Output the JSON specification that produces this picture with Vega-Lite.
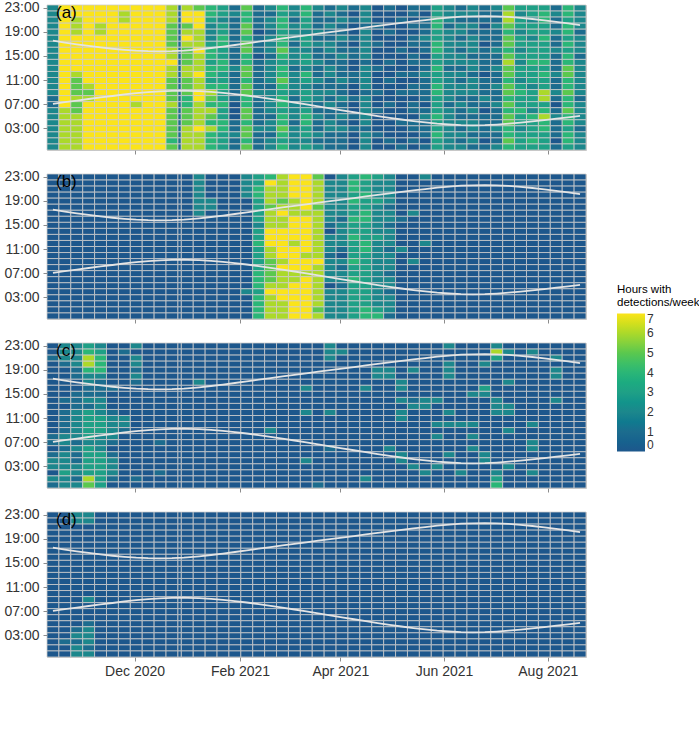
{
"$schema":"https://vega.github.io/schema/vega-lite/v6.json",
"padding":{"left":3,"top":0,"right":4,"bottom":4},
"background":"white",
"spacing":14,
"config":{
 "font":"Liberation Sans",
 "view":{"stroke":"#c6c6c6","strokeWidth":1},
 "axis":{"domain":false,"grid":false,"tickColor":"#8c8c8c","tickSize":4,"labelColor":"#333333","labelFontSize":14,"labelPadding":4},
 "legend":{"orient":"none","legendX":570,"legendY":279,"direction":"vertical","gradientLength":138,"gradientThickness":28,"titleFontSize":11.5,"titleFontWeight":"normal","titleColor":"#000000","titleLineHeight":13,"titlePadding":5,"labelFontSize":12,"labelColor":"#333333","labelOffset":6,"labelOverlap":false,"gradientStrokeWidth":0},
 "title":{"fontSize":17,"fontWeight":"normal","color":"#000000","anchor":"start","frame":"group","offset":-21,"dx":9}
},
"datasets":{
"sun":[
{"d":"2020-10-14T00:00","r":7.15,"s":17.59},{"d":"2020-10-21T00:00","r":7.41,"s":17.28},{"d":"2020-10-28T00:00","r":7.68,"s":16.99},{"d":"2020-11-04T00:00","r":7.94,"s":16.72},{"d":"2020-11-11T00:00","r":8.2,"s":16.47},{"d":"2020-11-18T00:00","r":8.44,"s":16.26},{"d":"2020-11-25T00:00","r":8.69,"s":16.08},{"d":"2020-12-02T00:00","r":8.9,"s":15.94},{"d":"2020-12-09T00:00","r":9.09,"s":15.85},{"d":"2020-12-16T00:00","r":9.22,"s":15.83},{"d":"2020-12-23T00:00","r":9.29,"s":15.86},{"d":"2020-12-30T00:00","r":9.32,"s":15.95},{"d":"2021-01-01T00:00","r":9.3,"s":16.0},{"d":"2021-01-08T00:00","r":9.25,"s":16.17},{"d":"2021-01-15T00:00","r":9.13,"s":16.38},{"d":"2021-01-22T00:00","r":8.96,"s":16.62},{"d":"2021-01-29T00:00","r":8.76,"s":16.88},{"d":"2021-02-05T00:00","r":8.52,"s":17.15},{"d":"2021-02-12T00:00","r":8.25,"s":17.42},{"d":"2021-02-19T00:00","r":7.97,"s":17.7},{"d":"2021-02-26T00:00","r":7.66,"s":17.97},{"d":"2021-03-05T00:00","r":7.36,"s":18.23},{"d":"2021-03-12T00:00","r":7.04,"s":18.49},{"d":"2021-03-19T00:00","r":6.72,"s":18.76},{"d":"2021-03-26T00:00","r":6.4,"s":19.0},{"d":"2021-04-02T00:00","r":6.07,"s":19.27},{"d":"2021-04-09T00:00","r":5.75,"s":19.52},{"d":"2021-04-16T00:00","r":5.43,"s":19.78},{"d":"2021-04-23T00:00","r":5.12,"s":20.03},{"d":"2021-04-30T00:00","r":4.82,"s":20.29},{"d":"2021-05-07T00:00","r":4.55,"s":20.53},{"d":"2021-05-14T00:00","r":4.29,"s":20.79},{"d":"2021-05-21T00:00","r":4.07,"s":21.01},{"d":"2021-05-28T00:00","r":3.86,"s":21.24},{"d":"2021-06-04T00:00","r":3.72,"s":21.42},{"d":"2021-06-11T00:00","r":3.62,"s":21.56},{"d":"2021-06-18T00:00","r":3.59,"s":21.63},{"d":"2021-06-25T00:00","r":3.61,"s":21.66},{"d":"2021-07-02T00:00","r":3.71,"s":21.62},{"d":"2021-07-09T00:00","r":3.85,"s":21.52},{"d":"2021-07-16T00:00","r":4.03,"s":21.37},{"d":"2021-07-23T00:00","r":4.24,"s":21.18},{"d":"2021-07-30T00:00","r":4.46,"s":20.96},{"d":"2021-08-06T00:00","r":4.68,"s":20.72},{"d":"2021-08-13T00:00","r":4.91,"s":20.45},{"d":"2021-08-20T00:00","r":5.14,"s":20.17}
],
"cells":[
{"p":"a","x":"2020-10-10T12:00","x2":"2020-10-17T12:00","23":2,"22":2,"21":2,"20":2,"19":2,"18":2,"17":2,"16":2,"15":2,"14":2,"13":2,"12":2,"11":2,"10":2,"9":2,"8":1,"7":1,"6":2,"5":2,"4":2,"3":2,"2":2,"1":2,"0":2},
{"p":"a","x":"2020-10-17T12:00","x2":"2020-10-24T12:00","23":7,"22":7,"21":7,"20":7,"19":7,"18":7,"17":7,"16":7,"15":7,"14":7,"13":7,"12":7,"11":7,"10":7,"9":7,"8":7,"7":7,"6":6,"5":6,"4":6,"3":6,"2":6,"1":6,"0":6},
{"p":"a","x":"2020-10-24T12:00","x2":"2020-10-31T12:00","23":7,"22":7,"21":6,"20":6,"19":6,"18":7,"17":7,"16":7,"15":7,"14":7,"13":7,"12":6,"11":5,"10":5,"9":5,"8":6,"7":5,"6":5,"5":6,"4":6,"3":6,"2":6,"1":6,"0":6},
{"p":"a","x":"2020-10-31T12:00","x2":"2020-11-07T12:00","23":7,"22":7,"21":7,"20":7,"19":7,"18":7,"17":7,"16":7,"15":7,"14":7,"13":7,"12":7,"11":7,"10":6,"9":5,"8":6,"7":7,"6":7,"5":7,"4":7,"3":7,"2":7,"1":7,"0":7},
{"p":"a","x":"2020-11-07T12:00","x2":"2020-11-14T12:00","23":7,"22":7,"21":7,"20":6,"19":6,"18":7,"17":7,"16":7,"15":7,"14":7,"13":7,"12":7,"11":7,"10":7,"9":7,"8":7,"7":7,"6":7,"5":7,"4":7,"3":7,"2":7,"1":7,"0":7},
{"p":"a","x":"2020-11-14T12:00","x2":"2020-11-21T12:00","23":7,"22":7,"21":7,"20":7,"19":7,"18":7,"17":7,"16":7,"15":7,"14":7,"13":7,"12":7,"11":7,"10":7,"9":7,"8":7,"7":7,"6":7,"5":7,"4":7,"3":7,"2":7,"1":7,"0":7},
{"p":"a","x":"2020-11-21T12:00","x2":"2020-11-28T12:00","23":7,"22":6,"21":6,"20":7,"19":7,"18":7,"17":7,"16":7,"15":7,"14":7,"13":7,"12":7,"11":7,"10":7,"9":7,"8":7,"7":7,"6":7,"5":7,"4":7,"3":7,"2":7,"1":7,"0":7},
{"p":"a","x":"2020-11-28T12:00","x2":"2020-12-05T12:00","23":7,"22":7,"21":7,"20":7,"19":7,"18":7,"17":7,"16":7,"15":7,"14":7,"13":7,"12":7,"11":7,"10":7,"9":7,"8":7,"7":6,"6":7,"5":7,"4":7,"3":7,"2":7,"1":7,"0":7},
{"p":"a","x":"2020-12-05T12:00","x2":"2020-12-12T12:00","23":7,"22":7,"21":7,"20":7,"19":7,"18":7,"17":7,"16":7,"15":7,"14":7,"13":7,"12":7,"11":7,"10":7,"9":7,"8":7,"7":7,"6":7,"5":7,"4":7,"3":7,"2":7,"1":7,"0":7},
{"p":"a","x":"2020-12-12T12:00","x2":"2020-12-19T12:00","23":7,"22":7,"21":7,"20":7,"19":7,"18":7,"17":7,"16":7,"15":7,"14":7,"13":7,"12":7,"11":7,"10":7,"9":7,"8":7,"7":7,"6":7,"5":7,"4":7,"3":7,"2":7,"1":7,"0":7},
{"p":"a","x":"2020-12-19T12:00","x2":"2020-12-26T12:00","23":6,"22":6,"21":6,"20":5,"19":5,"18":5,"17":5,"16":6,"15":6,"14":7,"13":6,"12":6,"11":5,"10":5,"9":5,"8":5,"7":6,"6":5,"5":5,"4":5,"3":5,"2":5,"1":4,"0":5},
{"p":"a","x":"2020-12-26T12:00","x2":"2020-12-28T12:00","23":1,"22":1,"21":1,"20":1,"19":1,"18":1,"17":1,"16":1,"15":1,"14":1,"13":1,"12":1,"11":1,"10":1,"9":1,"8":1,"7":1,"6":1,"5":1,"4":1,"3":1,"2":1,"1":1,"0":1},
{"p":"a","x":"2020-12-28T12:00","x2":"2021-01-04T12:00","23":6,"22":7,"21":7,"20":5,"19":6,"18":7,"17":6,"16":5,"15":5,"14":5,"13":6,"12":6,"11":5,"10":5,"9":5,"8":4,"7":4,"6":5,"5":5,"4":5,"3":6,"2":6,"1":6,"0":6},
{"p":"a","x":"2021-01-04T12:00","x2":"2021-01-11T12:00","23":5,"22":7,"21":7,"20":7,"19":6,"18":6,"17":6,"16":7,"15":6,"14":6,"13":6,"12":7,"11":6,"10":6,"9":7,"8":7,"7":6,"6":6,"5":6,"4":6,"3":7,"2":6,"1":6,"0":6},
{"p":"a","x":"2021-01-11T12:00","x2":"2021-01-18T12:00","23":4,"22":4,"21":3,"20":2,"19":2,"18":2,"17":3,"16":4,"15":4,"14":3,"13":4,"12":4,"11":3,"10":4,"9":6,"8":5,"7":4,"6":6,"5":5,"4":4,"3":6,"2":4,"1":4,"0":4},
{"p":"a","x":"2021-01-18T12:00","x2":"2021-01-25T12:00","23":3,"22":3,"21":2,"20":3,"19":3,"18":4,"17":4,"16":3,"15":3,"14":4,"13":4,"12":3,"11":3,"10":4,"9":3,"8":3,"7":4,"6":3,"5":3,"4":4,"3":4,"2":3,"1":3,"0":3},
{"p":"a","x":"2021-01-25T12:00","x2":"2021-02-01T12:00","23":1,"22":2,"21":1,"20":1,"19":1,"18":1,"17":1,"16":1,"15":1,"14":1,"13":2,"12":1,"11":1,"10":1,"9":1,"8":1,"7":0,"6":0,"5":0,"4":1,"3":1,"2":2,"1":1,"0":1},
{"p":"a","x":"2021-02-01T12:00","x2":"2021-02-08T12:00","23":5,"22":4,"21":4,"20":5,"19":5,"18":4,"17":5,"16":5,"15":4,"14":4,"13":5,"12":5,"11":4,"10":5,"9":5,"8":4,"7":4,"6":5,"5":5,"4":4,"3":5,"2":5,"1":4,"0":5},
{"p":"a","x":"2021-02-08T12:00","x2":"2021-02-15T12:00","23":1,"22":1,"21":1,"20":1,"19":0,"18":1,"17":1,"16":1,"15":0,"14":1,"13":1,"12":1,"11":1,"10":1,"9":2,"8":1,"7":1,"6":1,"5":1,"4":1,"3":2,"2":1,"1":1,"0":1},
{"p":"a","x":"2021-02-15T12:00","x2":"2021-02-22T12:00","23":2,"22":1,"21":2,"20":2,"19":1,"18":2,"17":2,"16":2,"15":1,"14":2,"13":2,"12":2,"11":2,"10":1,"9":2,"8":2,"7":2,"6":2,"5":1,"4":2,"3":2,"2":1,"1":2,"0":2},
{"p":"a","x":"2021-02-22T12:00","x2":"2021-03-01T12:00","23":4,"22":3,"21":4,"20":4,"19":3,"18":4,"17":4,"16":5,"15":4,"14":3,"13":4,"12":4,"11":5,"10":4,"9":3,"8":4,"7":4,"6":3,"5":4,"4":4,"3":5,"2":4,"1":3,"0":4},
{"p":"a","x":"2021-03-01T12:00","x2":"2021-03-08T12:00","23":2,"22":2,"21":1,"20":2,"19":2,"18":2,"17":1,"16":2,"15":2,"14":2,"13":1,"12":2,"11":2,"10":2,"9":2,"8":1,"7":2,"6":2,"5":2,"4":1,"3":2,"2":2,"1":2,"0":2},
{"p":"a","x":"2021-03-08T12:00","x2":"2021-03-15T12:00","23":4,"22":4,"21":3,"20":3,"19":2,"18":3,"17":3,"16":2,"15":3,"14":3,"13":2,"12":4,"11":3,"10":2,"9":3,"8":3,"7":2,"6":3,"5":4,"4":4,"3":3,"2":3,"1":2,"0":3},
{"p":"a","x":"2021-03-15T12:00","x2":"2021-03-22T12:00","23":2,"22":1,"21":1,"20":1,"19":2,"18":1,"17":2,"16":1,"15":1,"14":2,"13":1,"12":1,"11":2,"10":1,"9":2,"8":2,"7":1,"6":1,"5":2,"4":1,"3":1,"2":2,"1":1,"0":2},
{"p":"a","x":"2021-03-22T12:00","x2":"2021-03-29T12:00","23":1,"22":2,"21":1,"20":2,"19":1,"18":1,"17":2,"16":2,"15":1,"14":1,"13":2,"12":2,"11":1,"10":1,"9":2,"8":1,"7":2,"6":1,"5":1,"4":2,"3":2,"2":1,"1":1,"0":1},
{"p":"a","x":"2021-03-29T12:00","x2":"2021-04-05T12:00","23":2,"22":1,"21":2,"20":1,"19":1,"18":2,"17":1,"16":1,"15":2,"14":1,"13":1,"12":1,"11":2,"10":1,"9":1,"8":2,"7":1,"6":1,"5":2,"4":1,"3":2,"2":1,"1":1,"0":1},
{"p":"a","x":"2021-04-05T12:00","x2":"2021-04-12T12:00","23":1,"22":0,"21":1,"20":0,"19":0,"18":1,"17":0,"16":1,"15":1,"14":0,"13":0,"12":1,"11":1,"10":0,"9":0,"8":1,"7":0,"6":0,"5":1,"4":0,"3":1,"2":0,"1":0,"0":0},
{"p":"a","x":"2021-04-12T12:00","x2":"2021-04-19T12:00","23":2,"22":2,"21":2,"20":1,"19":2,"18":2,"17":2,"16":2,"15":2,"14":1,"13":2,"12":2,"11":2,"10":2,"9":1,"8":2,"7":2,"6":2,"5":2,"4":2,"3":1,"2":2,"1":2,"0":2},
{"p":"a","x":"2021-04-19T12:00","x2":"2021-04-26T12:00","23":0,"22":0,"21":0,"20":1,"19":0,"18":0,"17":1,"16":0,"15":0,"14":0,"13":1,"12":0,"11":0,"10":0,"9":1,"8":0,"7":0,"6":1,"5":0,"4":0,"3":0,"2":1,"1":0,"0":0},
{"p":"a","x":"2021-04-26T12:00","x2":"2021-05-03T12:00","23":1,"22":0,"21":0,"20":0,"19":1,"18":0,"17":0,"16":0,"15":0,"14":1,"13":0,"12":0,"11":1,"10":0,"9":0,"8":0,"7":1,"6":0,"5":0,"4":0,"3":0,"2":0,"1":1,"0":0},
{"p":"a","x":"2021-05-03T12:00","x2":"2021-05-10T12:00","23":0,"22":0,"21":1,"20":0,"19":0,"18":0,"17":0,"16":1,"15":0,"14":0,"13":0,"12":1,"11":0,"10":0,"9":1,"8":0,"7":0,"6":0,"5":0,"4":1,"3":0,"2":0,"1":0,"0":1},
{"p":"a","x":"2021-05-10T12:00","x2":"2021-05-17T12:00","23":1,"22":1,"21":0,"20":1,"19":0,"18":1,"17":1,"16":0,"15":1,"14":1,"13":0,"12":1,"11":0,"10":1,"9":1,"8":0,"7":1,"6":1,"5":0,"4":1,"3":1,"2":0,"1":1,"0":0},
{"p":"a","x":"2021-05-17T12:00","x2":"2021-05-24T12:00","23":1,"22":0,"21":1,"20":1,"19":1,"18":2,"17":1,"16":1,"15":0,"14":1,"13":1,"12":2,"11":1,"10":1,"9":1,"8":1,"7":0,"6":1,"5":2,"4":1,"3":1,"2":1,"1":0,"0":1},
{"p":"a","x":"2021-05-24T12:00","x2":"2021-05-31T12:00","23":3,"22":3,"21":4,"20":4,"19":3,"18":3,"17":4,"16":4,"15":3,"14":3,"13":4,"12":3,"11":3,"10":4,"9":4,"8":3,"7":3,"6":3,"5":4,"4":3,"3":3,"2":4,"1":3,"0":3},
{"p":"a","x":"2021-05-31T12:00","x2":"2021-06-07T12:00","23":2,"22":2,"21":2,"20":1,"19":2,"18":2,"17":2,"16":2,"15":2,"14":2,"13":1,"12":2,"11":2,"10":2,"9":2,"8":2,"7":1,"6":2,"5":2,"4":2,"3":2,"2":2,"1":2,"0":2},
{"p":"a","x":"2021-06-07T12:00","x2":"2021-06-14T12:00","23":1,"22":2,"21":1,"20":2,"19":2,"18":1,"17":2,"16":1,"15":2,"14":2,"13":1,"12":2,"11":1,"10":2,"9":2,"8":1,"7":2,"6":1,"5":1,"4":2,"3":1,"2":2,"1":1,"0":2},
{"p":"a","x":"2021-06-14T12:00","x2":"2021-06-21T12:00","23":2,"22":2,"21":1,"20":2,"19":1,"18":2,"17":2,"16":2,"15":1,"14":2,"13":2,"12":1,"11":2,"10":2,"9":2,"8":1,"7":1,"6":2,"5":1,"4":2,"3":2,"2":1,"1":2,"0":1},
{"p":"a","x":"2021-06-21T12:00","x2":"2021-06-28T12:00","23":1,"22":1,"21":1,"20":0,"19":1,"18":1,"17":0,"16":1,"15":1,"14":1,"13":1,"12":0,"11":1,"10":1,"9":1,"8":2,"7":1,"6":0,"5":1,"4":1,"3":1,"2":1,"1":0,"0":1},
{"p":"a","x":"2021-06-28T12:00","x2":"2021-07-05T12:00","23":2,"22":1,"21":1,"20":2,"19":1,"18":1,"17":1,"16":2,"15":1,"14":1,"13":2,"12":1,"11":1,"10":2,"9":1,"8":1,"7":2,"6":1,"5":1,"4":1,"3":2,"2":1,"1":1,"0":2},
{"p":"a","x":"2021-07-05T12:00","x2":"2021-07-12T12:00","23":5,"22":6,"21":6,"20":5,"19":4,"18":5,"17":5,"16":4,"15":5,"14":6,"13":5,"12":5,"11":4,"10":5,"9":5,"8":4,"7":5,"6":4,"5":5,"4":5,"3":4,"2":4,"1":5,"0":4},
{"p":"a","x":"2021-07-12T12:00","x2":"2021-07-19T12:00","23":3,"22":2,"21":3,"20":3,"19":2,"18":3,"17":3,"16":2,"15":3,"14":2,"13":3,"12":3,"11":2,"10":3,"9":4,"8":3,"7":3,"6":4,"5":3,"4":3,"3":2,"2":3,"1":3,"0":3},
{"p":"a","x":"2021-07-19T12:00","x2":"2021-07-26T12:00","23":3,"22":3,"21":2,"20":3,"19":3,"18":2,"17":3,"16":3,"15":3,"14":4,"13":3,"12":3,"11":3,"10":2,"9":3,"8":3,"7":3,"6":2,"5":4,"4":3,"3":3,"2":3,"1":4,"0":3},
{"p":"a","x":"2021-07-26T12:00","x2":"2021-08-02T12:00","23":3,"22":4,"21":4,"20":3,"19":3,"18":4,"17":3,"16":3,"15":3,"14":4,"13":3,"12":4,"11":3,"10":3,"9":6,"8":6,"7":3,"6":4,"5":6,"4":4,"3":4,"2":3,"1":3,"0":3},
{"p":"a","x":"2021-08-02T12:00","x2":"2021-08-09T12:00","23":1,"22":2,"21":1,"20":1,"19":2,"18":1,"17":1,"16":2,"15":1,"14":1,"13":1,"12":2,"11":1,"10":1,"9":2,"8":1,"7":0,"6":1,"5":2,"4":1,"3":1,"2":1,"1":0,"0":1},
{"p":"a","x":"2021-08-09T12:00","x2":"2021-08-16T12:00","23":4,"22":4,"21":3,"20":4,"19":4,"18":3,"17":4,"16":3,"15":4,"14":4,"13":5,"12":5,"11":4,"10":4,"9":5,"8":4,"7":4,"6":5,"5":4,"4":4,"3":3,"2":4,"1":4,"0":3},
{"p":"a","x":"2021-08-16T12:00","x2":"2021-08-23T12:00","23":2,"22":2,"21":2,"20":2,"19":1,"18":2,"17":2,"16":2,"15":1,"14":2,"13":2,"12":2,"11":2,"10":2,"9":2,"8":1,"7":2,"6":2,"5":2,"4":2,"3":1,"2":2,"1":2,"0":2},

{"p":"b","x":"2020-10-10T12:00","x2":"2020-10-17T12:00","23":0,"22":0,"21":0,"20":0,"19":0,"18":0,"17":0,"16":0,"15":0,"14":0,"13":0,"12":0,"11":0,"10":0,"9":0,"8":0,"7":0,"6":0,"5":0,"4":0,"3":0,"2":0,"1":0,"0":0},
{"p":"b","x":"2020-10-17T12:00","x2":"2020-10-24T12:00","23":0,"22":0,"21":0,"20":0,"19":0,"18":0,"17":0,"16":0,"15":0,"14":0,"13":0,"12":0,"11":0,"10":0,"9":0,"8":0,"7":0,"6":0,"5":0,"4":0,"3":0,"2":0,"1":0,"0":0},
{"p":"b","x":"2020-10-24T12:00","x2":"2020-10-31T12:00","23":0,"22":0,"21":0,"20":0,"19":0,"18":0,"17":0,"16":0,"15":0,"14":0,"13":0,"12":0,"11":0,"10":0,"9":0,"8":0,"7":0,"6":0,"5":0,"4":0,"3":0,"2":0,"1":0,"0":0},
{"p":"b","x":"2020-10-31T12:00","x2":"2020-11-07T12:00","23":0,"22":0,"21":0,"20":0,"19":0,"18":0,"17":0,"16":0,"15":0,"14":0,"13":0,"12":0,"11":0,"10":0,"9":0,"8":0,"7":0,"6":0,"5":0,"4":0,"3":0,"2":0,"1":0,"0":0},
{"p":"b","x":"2020-11-07T12:00","x2":"2020-11-14T12:00","23":0,"22":0,"21":0,"20":0,"19":0,"18":0,"17":0,"16":0,"15":0,"14":0,"13":0,"12":0,"11":0,"10":0,"9":0,"8":0,"7":0,"6":0,"5":0,"4":0,"3":0,"2":0,"1":0,"0":0},
{"p":"b","x":"2020-11-14T12:00","x2":"2020-11-21T12:00","23":0,"22":0,"21":0,"20":0,"19":0,"18":0,"17":0,"16":0,"15":0,"14":0,"13":0,"12":0,"11":0,"10":0,"9":0,"8":0,"7":0,"6":0,"5":0,"4":0,"3":0,"2":0,"1":0,"0":0},
{"p":"b","x":"2020-11-21T12:00","x2":"2020-11-28T12:00","23":0,"22":0,"21":0,"20":0,"19":0,"18":0,"17":0,"16":0,"15":0,"14":0,"13":0,"12":0,"11":0,"10":0,"9":0,"8":0,"7":0,"6":0,"5":0,"4":0,"3":0,"2":0,"1":0,"0":0},
{"p":"b","x":"2020-11-28T12:00","x2":"2020-12-05T12:00","23":0,"22":0,"21":0,"20":0,"19":0,"18":0,"17":0,"16":0,"15":0,"14":0,"13":0,"12":0,"11":0,"10":0,"9":0,"8":0,"7":0,"6":0,"5":0,"4":0,"3":0,"2":0,"1":0,"0":0},
{"p":"b","x":"2020-12-05T12:00","x2":"2020-12-12T12:00","23":0,"22":0,"21":0,"20":0,"19":0,"18":0,"17":0,"16":0,"15":0,"14":0,"13":0,"12":0,"11":0,"10":0,"9":0,"8":0,"7":0,"6":0,"5":0,"4":0,"3":0,"2":0,"1":0,"0":0},
{"p":"b","x":"2020-12-12T12:00","x2":"2020-12-19T12:00","23":0,"22":0,"21":0,"20":0,"19":0,"18":0,"17":0,"16":0,"15":0,"14":0,"13":0,"12":0,"11":0,"10":0,"9":0,"8":0,"7":0,"6":0,"5":0,"4":0,"3":0,"2":0,"1":0,"0":0},
{"p":"b","x":"2020-12-19T12:00","x2":"2020-12-26T12:00","23":0,"22":0,"21":0,"20":0,"19":0,"18":0,"17":0,"16":0,"15":0,"14":0,"13":0,"12":0,"11":0,"10":0,"9":0,"8":0,"7":0,"6":0,"5":0,"4":0,"3":0,"2":0,"1":0,"0":0},
{"p":"b","x":"2020-12-26T12:00","x2":"2020-12-28T12:00","23":0,"22":0,"21":0,"20":0,"19":0,"18":0,"17":0,"16":0,"15":0,"14":0,"13":0,"12":0,"11":0,"10":0,"9":0,"8":0,"7":0,"6":0,"5":0,"4":0,"3":0,"2":0,"1":0,"0":0},
{"p":"b","x":"2020-12-28T12:00","x2":"2021-01-04T12:00","23":0,"22":0,"21":0,"20":0,"19":0,"18":0,"17":0,"16":0,"15":0,"14":0,"13":0,"12":0,"11":0,"10":0,"9":0,"8":0,"7":0,"6":0,"5":0,"4":0,"3":0,"2":0,"1":0,"0":0},
{"p":"b","x":"2021-01-04T12:00","x2":"2021-01-11T12:00","23":2,"22":2,"21":2,"20":2,"19":2,"18":2,"17":2,"16":0,"15":0,"14":0,"13":0,"12":0,"11":0,"10":0,"9":0,"8":0,"7":0,"6":0,"5":0,"4":0,"3":0,"2":0,"1":0,"0":0},
{"p":"b","x":"2021-01-11T12:00","x2":"2021-01-18T12:00","23":0,"22":0,"21":0,"20":0,"19":2,"18":2,"17":0,"16":0,"15":0,"14":0,"13":0,"12":0,"11":0,"10":0,"9":0,"8":0,"7":0,"6":0,"5":0,"4":0,"3":0,"2":0,"1":0,"0":0},
{"p":"b","x":"2021-01-18T12:00","x2":"2021-01-25T12:00","23":0,"22":0,"21":0,"20":0,"19":0,"18":0,"17":0,"16":0,"15":0,"14":0,"13":0,"12":0,"11":0,"10":0,"9":0,"8":0,"7":0,"6":0,"5":0,"4":0,"3":0,"2":0,"1":0,"0":0},
{"p":"b","x":"2021-01-25T12:00","x2":"2021-02-01T12:00","23":0,"22":0,"21":0,"20":0,"19":0,"18":0,"17":0,"16":0,"15":0,"14":0,"13":0,"12":0,"11":0,"10":0,"9":0,"8":0,"7":0,"6":0,"5":0,"4":0,"3":0,"2":0,"1":0,"0":0},
{"p":"b","x":"2021-02-01T12:00","x2":"2021-02-08T12:00","23":2,"22":2,"21":2,"20":2,"19":0,"18":0,"17":0,"16":0,"15":0,"14":0,"13":0,"12":0,"11":0,"10":0,"9":0,"8":0,"7":0,"6":0,"5":0,"4":2,"3":0,"2":0,"1":0,"0":0},
{"p":"b","x":"2021-02-08T12:00","x2":"2021-02-15T12:00","23":3,"22":3,"21":4,"20":4,"19":3,"18":3,"17":3,"16":3,"15":2,"14":3,"13":3,"12":4,"11":3,"10":3,"9":3,"8":3,"7":4,"6":4,"5":4,"4":3,"3":4,"2":4,"1":4,"0":4},
{"p":"b","x":"2021-02-15T12:00","x2":"2021-02-22T12:00","23":4,"22":7,"21":6,"20":6,"19":6,"18":5,"17":6,"16":6,"15":6,"14":7,"13":7,"12":7,"11":6,"10":6,"9":5,"8":5,"7":5,"6":5,"5":6,"4":7,"3":6,"2":6,"1":6,"0":6},
{"p":"b","x":"2021-02-22T12:00","x2":"2021-03-01T12:00","23":6,"22":6,"21":6,"20":6,"19":5,"18":6,"17":7,"16":6,"15":6,"14":7,"13":7,"12":7,"11":7,"10":7,"9":6,"8":7,"7":6,"6":6,"5":6,"4":7,"3":7,"2":6,"1":6,"0":6},
{"p":"b","x":"2021-03-01T12:00","x2":"2021-03-08T12:00","23":7,"22":7,"21":7,"20":7,"19":6,"18":6,"17":6,"16":7,"15":7,"14":7,"13":7,"12":6,"11":7,"10":7,"9":7,"8":7,"7":6,"6":6,"5":7,"4":7,"3":7,"2":7,"1":7,"0":7},
{"p":"b","x":"2021-03-08T12:00","x2":"2021-03-15T12:00","23":7,"22":7,"21":7,"20":7,"19":7,"18":7,"17":6,"16":7,"15":7,"14":7,"13":7,"12":7,"11":7,"10":6,"9":7,"8":7,"7":6,"6":7,"5":7,"4":7,"3":7,"2":7,"1":7,"0":7},
{"p":"b","x":"2021-03-15T12:00","x2":"2021-03-22T12:00","23":5,"22":6,"21":6,"20":6,"19":6,"18":5,"17":6,"16":6,"15":6,"14":6,"13":6,"12":6,"11":6,"10":6,"9":7,"8":6,"7":6,"6":6,"5":6,"4":6,"3":6,"2":6,"1":5,"0":6},
{"p":"b","x":"2021-03-22T12:00","x2":"2021-03-29T12:00","23":0,"22":2,"21":2,"20":2,"19":2,"18":2,"17":2,"16":2,"15":1,"14":0,"13":2,"12":2,"11":2,"10":1,"9":2,"8":2,"7":2,"6":2,"5":0,"4":2,"3":2,"2":2,"1":2,"0":2},
{"p":"b","x":"2021-03-29T12:00","x2":"2021-04-05T12:00","23":2,"22":2,"21":2,"20":2,"19":2,"18":2,"17":2,"16":1,"15":2,"14":2,"13":2,"12":2,"11":1,"10":0,"9":2,"8":1,"7":2,"6":2,"5":1,"4":2,"3":2,"2":2,"1":2,"0":2},
{"p":"b","x":"2021-04-05T12:00","x2":"2021-04-12T12:00","23":3,"22":4,"21":4,"20":3,"19":4,"18":3,"17":3,"16":4,"15":3,"14":3,"13":4,"12":3,"11":3,"10":3,"9":4,"8":3,"7":3,"6":4,"5":3,"4":3,"3":3,"2":3,"1":3,"0":3},
{"p":"b","x":"2021-04-12T12:00","x2":"2021-04-19T12:00","23":4,"22":3,"21":3,"20":4,"19":3,"18":3,"17":4,"16":4,"15":3,"14":3,"13":3,"12":4,"11":4,"10":3,"9":3,"8":3,"7":3,"6":3,"5":3,"4":3,"3":3,"2":3,"1":4,"0":4},
{"p":"b","x":"2021-04-19T12:00","x2":"2021-04-26T12:00","23":3,"22":2,"21":2,"20":2,"19":3,"18":2,"17":2,"16":2,"15":2,"14":2,"13":3,"12":2,"11":2,"10":2,"9":2,"8":2,"7":2,"6":2,"5":2,"4":2,"3":2,"2":2,"1":3,"0":4},
{"p":"b","x":"2021-04-26T12:00","x2":"2021-05-03T12:00","23":2,"22":2,"21":2,"20":2,"19":2,"18":1,"17":2,"16":2,"15":1,"14":2,"13":2,"12":2,"11":1,"10":2,"9":2,"8":2,"7":1,"6":2,"5":2,"4":1,"3":2,"2":2,"1":2,"0":1},
{"p":"b","x":"2021-05-03T12:00","x2":"2021-05-10T12:00","23":0,"22":0,"21":0,"20":0,"19":0,"18":0,"17":0,"16":1,"15":0,"14":0,"13":0,"12":0,"11":2,"10":0,"9":0,"8":0,"7":0,"6":0,"5":0,"4":0,"3":0,"2":0,"1":0,"0":0},
{"p":"b","x":"2021-05-10T12:00","x2":"2021-05-17T12:00","23":0,"22":0,"21":0,"20":0,"19":0,"18":0,"17":2,"16":0,"15":0,"14":0,"13":0,"12":0,"11":0,"10":0,"9":2,"8":0,"7":0,"6":0,"5":0,"4":0,"3":0,"2":0,"1":0,"0":0},
{"p":"b","x":"2021-05-17T12:00","x2":"2021-05-24T12:00","23":2,"22":0,"21":0,"20":0,"19":0,"18":0,"17":0,"16":0,"15":0,"14":0,"13":0,"12":2,"11":0,"10":0,"9":0,"8":0,"7":0,"6":0,"5":0,"4":0,"3":0,"2":0,"1":0,"0":0},
{"p":"b","x":"2021-05-24T12:00","x2":"2021-05-31T12:00","23":0,"22":0,"21":0,"20":0,"19":0,"18":0,"17":0,"16":0,"15":0,"14":0,"13":0,"12":0,"11":0,"10":0,"9":0,"8":0,"7":0,"6":0,"5":0,"4":0,"3":0,"2":0,"1":0,"0":0},
{"p":"b","x":"2021-05-31T12:00","x2":"2021-06-07T12:00","23":0,"22":0,"21":0,"20":0,"19":0,"18":0,"17":0,"16":0,"15":0,"14":0,"13":0,"12":0,"11":0,"10":0,"9":0,"8":0,"7":0,"6":0,"5":0,"4":0,"3":0,"2":0,"1":0,"0":0},
{"p":"b","x":"2021-06-07T12:00","x2":"2021-06-14T12:00","23":0,"22":0,"21":0,"20":0,"19":0,"18":0,"17":0,"16":0,"15":0,"14":0,"13":0,"12":0,"11":0,"10":0,"9":0,"8":0,"7":0,"6":0,"5":0,"4":0,"3":0,"2":0,"1":0,"0":0},
{"p":"b","x":"2021-06-14T12:00","x2":"2021-06-21T12:00","23":0,"22":0,"21":0,"20":0,"19":0,"18":0,"17":0,"16":0,"15":0,"14":0,"13":0,"12":0,"11":0,"10":0,"9":0,"8":0,"7":0,"6":0,"5":0,"4":0,"3":0,"2":0,"1":0,"0":0},
{"p":"b","x":"2021-06-21T12:00","x2":"2021-06-28T12:00","23":0,"22":0,"21":0,"20":0,"19":0,"18":0,"17":0,"16":0,"15":0,"14":0,"13":0,"12":0,"11":0,"10":0,"9":0,"8":0,"7":0,"6":0,"5":0,"4":0,"3":0,"2":0,"1":0,"0":0},
{"p":"b","x":"2021-06-28T12:00","x2":"2021-07-05T12:00","23":0,"22":0,"21":0,"20":0,"19":0,"18":0,"17":0,"16":0,"15":0,"14":0,"13":0,"12":0,"11":0,"10":0,"9":0,"8":0,"7":0,"6":0,"5":0,"4":0,"3":0,"2":0,"1":0,"0":0},
{"p":"b","x":"2021-07-05T12:00","x2":"2021-07-12T12:00","23":0,"22":0,"21":0,"20":0,"19":0,"18":0,"17":0,"16":0,"15":0,"14":0,"13":0,"12":0,"11":0,"10":0,"9":0,"8":0,"7":0,"6":0,"5":0,"4":0,"3":0,"2":0,"1":0,"0":0},
{"p":"b","x":"2021-07-12T12:00","x2":"2021-07-19T12:00","23":0,"22":0,"21":0,"20":0,"19":0,"18":0,"17":0,"16":0,"15":0,"14":0,"13":0,"12":0,"11":0,"10":0,"9":0,"8":0,"7":0,"6":0,"5":0,"4":0,"3":0,"2":0,"1":0,"0":0},
{"p":"b","x":"2021-07-19T12:00","x2":"2021-07-26T12:00","23":0,"22":0,"21":0,"20":0,"19":0,"18":0,"17":0,"16":0,"15":0,"14":0,"13":0,"12":0,"11":0,"10":0,"9":0,"8":0,"7":0,"6":0,"5":0,"4":0,"3":0,"2":0,"1":0,"0":0},
{"p":"b","x":"2021-07-26T12:00","x2":"2021-08-02T12:00","23":0,"22":0,"21":0,"20":0,"19":0,"18":0,"17":0,"16":0,"15":0,"14":0,"13":0,"12":0,"11":0,"10":0,"9":0,"8":0,"7":0,"6":0,"5":0,"4":0,"3":0,"2":0,"1":0,"0":0},
{"p":"b","x":"2021-08-02T12:00","x2":"2021-08-09T12:00","23":0,"22":0,"21":0,"20":0,"19":0,"18":0,"17":0,"16":0,"15":0,"14":0,"13":0,"12":0,"11":0,"10":0,"9":0,"8":0,"7":0,"6":0,"5":0,"4":0,"3":0,"2":0,"1":0,"0":0},
{"p":"b","x":"2021-08-09T12:00","x2":"2021-08-16T12:00","23":0,"22":0,"21":0,"20":0,"19":0,"18":0,"17":0,"16":0,"15":0,"14":0,"13":0,"12":0,"11":0,"10":0,"9":0,"8":0,"7":0,"6":0,"5":0,"4":0,"3":0,"2":0,"1":0,"0":0},
{"p":"b","x":"2021-08-16T12:00","x2":"2021-08-23T12:00","23":0,"22":0,"21":0,"20":0,"19":0,"18":0,"17":0,"16":0,"15":0,"14":0,"13":0,"12":0,"11":0,"10":0,"9":0,"8":0,"7":0,"6":0,"5":0,"4":0,"3":0,"2":0,"1":0,"0":0},

{"p":"c","x":"2020-10-10T12:00","x2":"2020-10-17T12:00","23":0,"22":0,"21":1,"20":0,"19":0,"18":0,"17":0,"16":0,"15":0,"14":0,"13":0,"12":0,"11":0,"10":0,"9":0,"8":1,"7":1,"6":0,"5":1,"4":2,"3":2,"2":0,"1":2,"0":1},
{"p":"c","x":"2020-10-17T12:00","x2":"2020-10-24T12:00","23":2,"22":2,"21":2,"20":1,"19":0,"18":0,"17":0,"16":0,"15":0,"14":1,"13":0,"12":1,"11":1,"10":1,"9":1,"8":2,"7":2,"6":1,"5":2,"4":2,"3":2,"2":3,"1":2,"0":2},
{"p":"c","x":"2020-10-24T12:00","x2":"2020-10-31T12:00","23":2,"22":2,"21":2,"20":2,"19":1,"18":1,"17":0,"16":0,"15":1,"14":1,"13":1,"12":2,"11":2,"10":2,"9":2,"8":2,"7":1,"6":2,"5":1,"4":1,"3":2,"2":2,"1":1,"0":2},
{"p":"c","x":"2020-10-31T12:00","x2":"2020-11-07T12:00","23":3,"22":4,"21":6,"20":6,"19":4,"18":2,"17":2,"16":1,"15":1,"14":2,"13":1,"12":3,"11":3,"10":3,"9":3,"8":3,"7":2,"6":3,"5":3,"4":3,"3":3,"2":3,"1":6,"0":5},
{"p":"c","x":"2020-11-07T12:00","x2":"2020-11-14T12:00","23":2,"22":3,"21":4,"20":4,"19":4,"18":2,"17":1,"16":1,"15":1,"14":2,"13":2,"12":2,"11":3,"10":3,"9":3,"8":2,"7":2,"6":2,"5":3,"4":3,"3":3,"2":3,"1":3,"0":3},
{"p":"c","x":"2020-11-14T12:00","x2":"2020-11-21T12:00","23":0,"22":0,"21":0,"20":0,"19":0,"18":0,"17":0,"16":1,"15":0,"14":0,"13":0,"12":1,"11":2,"10":2,"9":2,"8":2,"7":1,"6":0,"5":1,"4":2,"3":2,"2":2,"1":1,"0":0},
{"p":"c","x":"2020-11-21T12:00","x2":"2020-11-28T12:00","23":0,"22":1,"21":0,"20":0,"19":0,"18":0,"17":0,"16":0,"15":0,"14":0,"13":0,"12":0,"11":2,"10":2,"9":1,"8":0,"7":0,"6":0,"5":0,"4":0,"3":0,"2":0,"1":0,"0":0},
{"p":"c","x":"2020-11-28T12:00","x2":"2020-12-05T12:00","23":2,"22":0,"21":2,"20":2,"19":1,"18":2,"17":1,"16":0,"15":0,"14":0,"13":0,"12":0,"11":0,"10":0,"9":0,"8":0,"7":0,"6":0,"5":0,"4":0,"3":0,"2":0,"1":1,"0":0},
{"p":"c","x":"2020-12-05T12:00","x2":"2020-12-12T12:00","23":0,"22":0,"21":0,"20":0,"19":0,"18":0,"17":0,"16":0,"15":0,"14":0,"13":0,"12":0,"11":0,"10":0,"9":0,"8":0,"7":0,"6":0,"5":0,"4":0,"3":0,"2":0,"1":0,"0":0},
{"p":"c","x":"2020-12-12T12:00","x2":"2020-12-19T12:00","23":0,"22":0,"21":0,"20":0,"19":0,"18":0,"17":0,"16":0,"15":0,"14":0,"13":0,"12":0,"11":0,"10":0,"9":0,"8":0,"7":1,"6":0,"5":0,"4":0,"3":0,"2":1,"1":0,"0":0},
{"p":"c","x":"2020-12-19T12:00","x2":"2020-12-26T12:00","23":0,"22":0,"21":0,"20":0,"19":0,"18":0,"17":0,"16":0,"15":0,"14":0,"13":0,"12":0,"11":0,"10":0,"9":0,"8":0,"7":0,"6":0,"5":0,"4":0,"3":0,"2":0,"1":0,"0":0},
{"p":"c","x":"2020-12-26T12:00","x2":"2020-12-28T12:00","23":0,"22":0,"21":0,"20":0,"19":0,"18":0,"17":0,"16":0,"15":0,"14":0,"13":0,"12":0,"11":0,"10":0,"9":0,"8":0,"7":0,"6":0,"5":0,"4":0,"3":0,"2":0,"1":0,"0":0},
{"p":"c","x":"2020-12-28T12:00","x2":"2021-01-04T12:00","23":0,"22":0,"21":0,"20":0,"19":0,"18":0,"17":0,"16":0,"15":0,"14":0,"13":0,"12":0,"11":0,"10":0,"9":0,"8":0,"7":0,"6":0,"5":0,"4":0,"3":0,"2":0,"1":0,"0":0},
{"p":"c","x":"2021-01-04T12:00","x2":"2021-01-11T12:00","23":0,"22":0,"21":0,"20":0,"19":0,"18":0,"17":2,"16":0,"15":0,"14":0,"13":0,"12":0,"11":0,"10":0,"9":0,"8":0,"7":0,"6":0,"5":0,"4":0,"3":0,"2":0,"1":0,"0":0},
{"p":"c","x":"2021-01-11T12:00","x2":"2021-01-18T12:00","23":0,"22":0,"21":0,"20":0,"19":0,"18":0,"17":0,"16":0,"15":0,"14":0,"13":0,"12":0,"11":0,"10":0,"9":0,"8":0,"7":0,"6":0,"5":0,"4":0,"3":0,"2":0,"1":0,"0":0},
{"p":"c","x":"2021-01-18T12:00","x2":"2021-01-25T12:00","23":0,"22":0,"21":0,"20":0,"19":0,"18":0,"17":0,"16":0,"15":0,"14":0,"13":0,"12":0,"11":0,"10":0,"9":0,"8":0,"7":0,"6":0,"5":0,"4":0,"3":0,"2":0,"1":0,"0":0},
{"p":"c","x":"2021-01-25T12:00","x2":"2021-02-01T12:00","23":0,"22":0,"21":0,"20":0,"19":0,"18":0,"17":0,"16":0,"15":0,"14":0,"13":0,"12":0,"11":0,"10":0,"9":0,"8":0,"7":0,"6":0,"5":0,"4":0,"3":0,"2":0,"1":0,"0":0},
{"p":"c","x":"2021-02-01T12:00","x2":"2021-02-08T12:00","23":0,"22":0,"21":0,"20":0,"19":0,"18":0,"17":0,"16":0,"15":0,"14":0,"13":0,"12":0,"11":0,"10":0,"9":0,"8":0,"7":0,"6":0,"5":0,"4":0,"3":0,"2":0,"1":0,"0":0},
{"p":"c","x":"2021-02-08T12:00","x2":"2021-02-15T12:00","23":0,"22":0,"21":0,"20":0,"19":0,"18":0,"17":0,"16":0,"15":0,"14":0,"13":0,"12":0,"11":0,"10":0,"9":0,"8":0,"7":0,"6":0,"5":0,"4":0,"3":0,"2":0,"1":0,"0":0},
{"p":"c","x":"2021-02-15T12:00","x2":"2021-02-22T12:00","23":0,"22":0,"21":0,"20":0,"19":0,"18":0,"17":0,"16":0,"15":0,"14":0,"13":0,"12":0,"11":0,"10":0,"9":2,"8":0,"7":0,"6":0,"5":0,"4":0,"3":0,"2":0,"1":0,"0":0},
{"p":"c","x":"2021-02-22T12:00","x2":"2021-03-01T12:00","23":0,"22":0,"21":0,"20":0,"19":0,"18":0,"17":0,"16":0,"15":0,"14":0,"13":0,"12":0,"11":0,"10":0,"9":0,"8":0,"7":0,"6":0,"5":0,"4":0,"3":0,"2":0,"1":0,"0":0},
{"p":"c","x":"2021-03-01T12:00","x2":"2021-03-08T12:00","23":0,"22":0,"21":0,"20":0,"19":0,"18":0,"17":0,"16":0,"15":0,"14":0,"13":0,"12":0,"11":0,"10":0,"9":0,"8":0,"7":0,"6":0,"5":0,"4":0,"3":0,"2":0,"1":0,"0":0},
{"p":"c","x":"2021-03-08T12:00","x2":"2021-03-15T12:00","23":0,"22":0,"21":0,"20":0,"19":0,"18":0,"17":0,"16":2,"15":0,"14":0,"13":0,"12":2,"11":0,"10":0,"9":0,"8":0,"7":0,"6":0,"5":0,"4":2,"3":0,"2":0,"1":0,"0":0},
{"p":"c","x":"2021-03-15T12:00","x2":"2021-03-22T12:00","23":0,"22":0,"21":0,"20":0,"19":0,"18":0,"17":0,"16":0,"15":0,"14":0,"13":0,"12":0,"11":0,"10":0,"9":0,"8":0,"7":0,"6":0,"5":0,"4":0,"3":0,"2":0,"1":0,"0":1},
{"p":"c","x":"2021-03-22T12:00","x2":"2021-03-29T12:00","23":2,"22":2,"21":2,"20":0,"19":0,"18":0,"17":0,"16":0,"15":0,"14":0,"13":0,"12":2,"11":0,"10":0,"9":0,"8":0,"7":0,"6":1,"5":0,"4":0,"3":0,"2":0,"1":0,"0":0},
{"p":"c","x":"2021-03-29T12:00","x2":"2021-04-05T12:00","23":0,"22":2,"21":0,"20":0,"19":0,"18":0,"17":0,"16":0,"15":0,"14":0,"13":0,"12":0,"11":0,"10":0,"9":0,"8":0,"7":0,"6":0,"5":0,"4":0,"3":0,"2":0,"1":0,"0":0},
{"p":"c","x":"2021-04-05T12:00","x2":"2021-04-12T12:00","23":0,"22":0,"21":0,"20":0,"19":0,"18":0,"17":0,"16":0,"15":0,"14":0,"13":0,"12":0,"11":0,"10":0,"9":0,"8":0,"7":0,"6":0,"5":0,"4":0,"3":0,"2":0,"1":0,"0":0},
{"p":"c","x":"2021-04-12T12:00","x2":"2021-04-19T12:00","23":0,"22":0,"21":0,"20":0,"19":0,"18":0,"17":0,"16":2,"15":0,"14":0,"13":0,"12":0,"11":0,"10":0,"9":0,"8":0,"7":0,"6":0,"5":0,"4":0,"3":0,"2":0,"1":2,"0":0},
{"p":"c","x":"2021-04-19T12:00","x2":"2021-04-26T12:00","23":0,"22":0,"21":0,"20":0,"19":2,"18":2,"17":0,"16":0,"15":0,"14":0,"13":0,"12":0,"11":0,"10":0,"9":0,"8":0,"7":0,"6":0,"5":0,"4":0,"3":0,"2":0,"1":0,"0":0},
{"p":"c","x":"2021-04-26T12:00","x2":"2021-05-03T12:00","23":0,"22":0,"21":0,"20":0,"19":2,"18":2,"17":0,"16":0,"15":0,"14":0,"13":0,"12":0,"11":0,"10":0,"9":0,"8":0,"7":0,"6":2,"5":0,"4":0,"3":0,"2":0,"1":0,"0":0},
{"p":"c","x":"2021-05-03T12:00","x2":"2021-05-10T12:00","23":0,"22":0,"21":0,"20":0,"19":0,"18":0,"17":2,"16":2,"15":0,"14":2,"13":0,"12":2,"11":2,"10":0,"9":0,"8":0,"7":0,"6":0,"5":2,"4":2,"3":0,"2":0,"1":0,"0":0},
{"p":"c","x":"2021-05-10T12:00","x2":"2021-05-17T12:00","23":0,"22":0,"21":0,"20":0,"19":2,"18":0,"17":0,"16":0,"15":0,"14":1,"13":2,"12":0,"11":0,"10":0,"9":0,"8":0,"7":0,"6":0,"5":0,"4":0,"3":2,"2":0,"1":0,"0":0},
{"p":"c","x":"2021-05-17T12:00","x2":"2021-05-24T12:00","23":0,"22":0,"21":0,"20":0,"19":0,"18":0,"17":0,"16":0,"15":0,"14":2,"13":2,"12":0,"11":0,"10":0,"9":0,"8":0,"7":0,"6":0,"5":0,"4":0,"3":0,"2":2,"1":0,"0":0},
{"p":"c","x":"2021-05-24T12:00","x2":"2021-05-31T12:00","23":0,"22":0,"21":0,"20":0,"19":0,"18":0,"17":0,"16":0,"15":0,"14":2,"13":0,"12":0,"11":0,"10":2,"9":0,"8":2,"7":0,"6":0,"5":0,"4":0,"3":2,"2":0,"1":0,"0":0},
{"p":"c","x":"2021-05-31T12:00","x2":"2021-06-07T12:00","23":2,"22":0,"21":0,"20":2,"19":2,"18":2,"17":0,"16":0,"15":0,"14":0,"13":0,"12":2,"11":0,"10":2,"9":0,"8":0,"7":0,"6":0,"5":2,"4":0,"3":0,"2":0,"1":0,"0":0},
{"p":"c","x":"2021-06-07T12:00","x2":"2021-06-14T12:00","23":0,"22":0,"21":0,"20":0,"19":0,"18":0,"17":0,"16":0,"15":0,"14":0,"13":0,"12":0,"11":0,"10":2,"9":0,"8":0,"7":0,"6":0,"5":0,"4":0,"3":0,"2":2,"1":0,"0":0},
{"p":"c","x":"2021-06-14T12:00","x2":"2021-06-21T12:00","23":0,"22":0,"21":0,"20":0,"19":0,"18":0,"17":0,"16":0,"15":2,"14":0,"13":0,"12":0,"11":0,"10":2,"9":0,"8":2,"7":0,"6":2,"5":0,"4":0,"3":0,"2":0,"1":0,"0":0},
{"p":"c","x":"2021-06-21T12:00","x2":"2021-06-28T12:00","23":0,"22":0,"21":0,"20":2,"19":0,"18":0,"17":0,"16":3,"15":2,"14":0,"13":0,"12":0,"11":0,"10":0,"9":0,"8":0,"7":0,"6":0,"5":2,"4":2,"3":0,"2":0,"1":0,"0":0},
{"p":"c","x":"2021-06-28T12:00","x2":"2021-07-05T12:00","23":2,"22":6,"21":3,"20":0,"19":0,"18":0,"17":0,"16":0,"15":0,"14":2,"13":2,"12":2,"11":0,"10":0,"9":0,"8":0,"7":0,"6":0,"5":0,"4":0,"3":0,"2":2,"1":3,"0":4},
{"p":"c","x":"2021-07-05T12:00","x2":"2021-07-12T12:00","23":0,"22":2,"21":0,"20":0,"19":0,"18":0,"17":2,"16":0,"15":0,"14":0,"13":2,"12":2,"11":0,"10":0,"9":2,"8":0,"7":0,"6":0,"5":0,"4":0,"3":2,"2":0,"1":0,"0":0},
{"p":"c","x":"2021-07-12T12:00","x2":"2021-07-19T12:00","23":0,"22":0,"21":0,"20":0,"19":0,"18":0,"17":0,"16":0,"15":0,"14":0,"13":0,"12":0,"11":0,"10":0,"9":0,"8":0,"7":0,"6":0,"5":0,"4":0,"3":0,"2":0,"1":0,"0":0},
{"p":"c","x":"2021-07-19T12:00","x2":"2021-07-26T12:00","23":0,"22":2,"21":0,"20":0,"19":0,"18":0,"17":0,"16":0,"15":0,"14":0,"13":0,"12":0,"11":0,"10":2,"9":0,"8":0,"7":2,"6":2,"5":0,"4":0,"3":0,"2":2,"1":0,"0":0},
{"p":"c","x":"2021-07-26T12:00","x2":"2021-08-02T12:00","23":0,"22":0,"21":0,"20":0,"19":0,"18":0,"17":0,"16":0,"15":0,"14":0,"13":0,"12":0,"11":0,"10":0,"9":0,"8":0,"7":0,"6":0,"5":0,"4":0,"3":0,"2":0,"1":0,"0":0},
{"p":"c","x":"2021-08-02T12:00","x2":"2021-08-09T12:00","23":0,"22":0,"21":2,"20":0,"19":2,"18":2,"17":0,"16":0,"15":0,"14":2,"13":0,"12":0,"11":0,"10":0,"9":0,"8":0,"7":0,"6":0,"5":0,"4":0,"3":0,"2":0,"1":0,"0":0},
{"p":"c","x":"2021-08-09T12:00","x2":"2021-08-16T12:00","23":0,"22":0,"21":0,"20":0,"19":0,"18":0,"17":0,"16":0,"15":0,"14":0,"13":0,"12":0,"11":0,"10":0,"9":0,"8":0,"7":0,"6":0,"5":0,"4":0,"3":0,"2":0,"1":0,"0":0},
{"p":"c","x":"2021-08-16T12:00","x2":"2021-08-23T12:00","23":0,"22":0,"21":0,"20":0,"19":0,"18":0,"17":0,"16":0,"15":0,"14":0,"13":0,"12":0,"11":0,"10":0,"9":0,"8":0,"7":0,"6":0,"5":0,"4":0,"3":0,"2":0,"1":0,"0":0},

{"p":"d","x":"2020-10-10T12:00","x2":"2020-10-17T12:00","23":0,"22":0,"21":0,"20":0,"19":0,"18":0,"17":0,"16":0,"15":0,"14":0,"13":0,"12":0,"11":0,"10":0,"9":0,"8":0,"7":0,"6":0,"5":0,"4":0,"3":0,"2":0,"1":0,"0":0},
{"p":"d","x":"2020-10-17T12:00","x2":"2020-10-24T12:00","23":0,"22":0,"21":0,"20":0,"19":0,"18":0,"17":0,"16":0,"15":0,"14":0,"13":0,"12":0,"11":0,"10":0,"9":0,"8":0,"7":0,"6":0,"5":0,"4":0,"3":0,"2":1,"1":0,"0":0},
{"p":"d","x":"2020-10-24T12:00","x2":"2020-10-31T12:00","23":2,"22":2,"21":0,"20":0,"19":0,"18":0,"17":0,"16":0,"15":0,"14":0,"13":0,"12":0,"11":0,"10":0,"9":0,"8":0,"7":0,"6":0,"5":0,"4":1,"3":2,"2":1,"1":2,"0":2},
{"p":"d","x":"2020-10-31T12:00","x2":"2020-11-07T12:00","23":2,"22":2,"21":0,"20":0,"19":0,"18":0,"17":0,"16":0,"15":0,"14":0,"13":0,"12":0,"11":0,"10":0,"9":2,"8":0,"7":0,"6":0,"5":1,"4":2,"3":2,"2":2,"1":1,"0":2},
{"p":"d","x":"2020-11-07T12:00","x2":"2020-11-14T12:00","23":0,"22":0,"21":0,"20":0,"19":0,"18":0,"17":0,"16":0,"15":0,"14":0,"13":0,"12":0,"11":0,"10":0,"9":0,"8":0,"7":0,"6":0,"5":0,"4":0,"3":0,"2":0,"1":0,"0":0},
{"p":"d","x":"2020-11-14T12:00","x2":"2020-11-21T12:00","23":0,"22":0,"21":0,"20":0,"19":0,"18":0,"17":0,"16":0,"15":0,"14":0,"13":0,"12":0,"11":0,"10":0,"9":0,"8":0,"7":0,"6":0,"5":0,"4":0,"3":0,"2":0,"1":0,"0":0},
{"p":"d","x":"2020-11-21T12:00","x2":"2020-11-28T12:00","23":0,"22":0,"21":0,"20":0,"19":0,"18":0,"17":0,"16":0,"15":0,"14":0,"13":0,"12":0,"11":0,"10":0,"9":0,"8":0,"7":0,"6":0,"5":0,"4":0,"3":0,"2":0,"1":0,"0":0},
{"p":"d","x":"2020-11-28T12:00","x2":"2020-12-05T12:00","23":0,"22":0,"21":0,"20":0,"19":0,"18":0,"17":0,"16":0,"15":0,"14":0,"13":0,"12":0,"11":0,"10":0,"9":0,"8":0,"7":0,"6":0,"5":0,"4":0,"3":0,"2":0,"1":0,"0":0},
{"p":"d","x":"2020-12-05T12:00","x2":"2020-12-12T12:00","23":0,"22":0,"21":0,"20":0,"19":0,"18":0,"17":0,"16":0,"15":0,"14":0,"13":0,"12":0,"11":0,"10":0,"9":0,"8":0,"7":0,"6":0,"5":0,"4":0,"3":0,"2":0,"1":0,"0":0},
{"p":"d","x":"2020-12-12T12:00","x2":"2020-12-19T12:00","23":0,"22":0,"21":0,"20":0,"19":0,"18":0,"17":0,"16":0,"15":0,"14":0,"13":0,"12":0,"11":0,"10":0,"9":0,"8":0,"7":0,"6":0,"5":0,"4":0,"3":0,"2":0,"1":0,"0":0},
{"p":"d","x":"2020-12-19T12:00","x2":"2020-12-26T12:00","23":0,"22":0,"21":0,"20":0,"19":0,"18":0,"17":0,"16":0,"15":0,"14":0,"13":0,"12":0,"11":0,"10":0,"9":0,"8":0,"7":0,"6":0,"5":0,"4":0,"3":0,"2":0,"1":0,"0":0},
{"p":"d","x":"2020-12-26T12:00","x2":"2020-12-28T12:00","23":0,"22":0,"21":0,"20":0,"19":0,"18":0,"17":0,"16":0,"15":0,"14":0,"13":0,"12":0,"11":0,"10":0,"9":0,"8":0,"7":0,"6":0,"5":0,"4":0,"3":0,"2":0,"1":0,"0":0},
{"p":"d","x":"2020-12-28T12:00","x2":"2021-01-04T12:00","23":0,"22":0,"21":0,"20":0,"19":0,"18":0,"17":0,"16":0,"15":0,"14":0,"13":0,"12":0,"11":0,"10":0,"9":0,"8":0,"7":0,"6":0,"5":0,"4":0,"3":0,"2":0,"1":0,"0":0},
{"p":"d","x":"2021-01-04T12:00","x2":"2021-01-11T12:00","23":0,"22":0,"21":0,"20":0,"19":0,"18":0,"17":0,"16":0,"15":0,"14":0,"13":0,"12":0,"11":0,"10":0,"9":0,"8":0,"7":0,"6":0,"5":0,"4":0,"3":0,"2":0,"1":0,"0":0},
{"p":"d","x":"2021-01-11T12:00","x2":"2021-01-18T12:00","23":0,"22":0,"21":0,"20":0,"19":0,"18":0,"17":0,"16":0,"15":0,"14":0,"13":0,"12":0,"11":0,"10":0,"9":0,"8":0,"7":0,"6":0,"5":0,"4":0,"3":0,"2":0,"1":0,"0":0},
{"p":"d","x":"2021-01-18T12:00","x2":"2021-01-25T12:00","23":0,"22":0,"21":0,"20":0,"19":0,"18":0,"17":0,"16":0,"15":0,"14":0,"13":0,"12":0,"11":0,"10":0,"9":0,"8":0,"7":0,"6":0,"5":0,"4":0,"3":0,"2":0,"1":0,"0":0},
{"p":"d","x":"2021-01-25T12:00","x2":"2021-02-01T12:00","23":0,"22":0,"21":0,"20":0,"19":0,"18":0,"17":0,"16":0,"15":0,"14":0,"13":0,"12":0,"11":0,"10":0,"9":0,"8":0,"7":0,"6":0,"5":0,"4":0,"3":0,"2":0,"1":0,"0":0},
{"p":"d","x":"2021-02-01T12:00","x2":"2021-02-08T12:00","23":0,"22":0,"21":0,"20":0,"19":0,"18":0,"17":0,"16":0,"15":0,"14":0,"13":0,"12":0,"11":0,"10":0,"9":0,"8":0,"7":0,"6":0,"5":0,"4":0,"3":0,"2":0,"1":0,"0":0},
{"p":"d","x":"2021-02-08T12:00","x2":"2021-02-15T12:00","23":0,"22":0,"21":0,"20":0,"19":0,"18":0,"17":0,"16":0,"15":0,"14":0,"13":0,"12":0,"11":0,"10":0,"9":0,"8":0,"7":0,"6":0,"5":0,"4":0,"3":0,"2":0,"1":0,"0":0},
{"p":"d","x":"2021-02-15T12:00","x2":"2021-02-22T12:00","23":0,"22":0,"21":0,"20":0,"19":0,"18":0,"17":0,"16":0,"15":0,"14":0,"13":0,"12":0,"11":0,"10":0,"9":0,"8":0,"7":0,"6":0,"5":0,"4":0,"3":0,"2":0,"1":0,"0":0},
{"p":"d","x":"2021-02-22T12:00","x2":"2021-03-01T12:00","23":0,"22":0,"21":0,"20":0,"19":0,"18":0,"17":0,"16":0,"15":0,"14":0,"13":0,"12":0,"11":0,"10":0,"9":0,"8":0,"7":0,"6":0,"5":0,"4":0,"3":0,"2":0,"1":0,"0":0},
{"p":"d","x":"2021-03-01T12:00","x2":"2021-03-08T12:00","23":0,"22":0,"21":0,"20":0,"19":0,"18":0,"17":0,"16":0,"15":0,"14":0,"13":0,"12":0,"11":0,"10":0,"9":0,"8":0,"7":0,"6":0,"5":0,"4":0,"3":0,"2":0,"1":0,"0":0},
{"p":"d","x":"2021-03-08T12:00","x2":"2021-03-15T12:00","23":0,"22":0,"21":0,"20":0,"19":0,"18":0,"17":0,"16":0,"15":0,"14":0,"13":0,"12":0,"11":0,"10":0,"9":0,"8":0,"7":0,"6":0,"5":0,"4":0,"3":0,"2":0,"1":0,"0":0},
{"p":"d","x":"2021-03-15T12:00","x2":"2021-03-22T12:00","23":0,"22":0,"21":0,"20":0,"19":0,"18":0,"17":0,"16":0,"15":0,"14":0,"13":0,"12":0,"11":0,"10":0,"9":0,"8":0,"7":0,"6":0,"5":0,"4":0,"3":0,"2":0,"1":0,"0":0},
{"p":"d","x":"2021-03-22T12:00","x2":"2021-03-29T12:00","23":0,"22":0,"21":0,"20":0,"19":0,"18":0,"17":0,"16":0,"15":0,"14":0,"13":0,"12":0,"11":0,"10":0,"9":0,"8":0,"7":0,"6":0,"5":0,"4":0,"3":0,"2":0,"1":0,"0":0},
{"p":"d","x":"2021-03-29T12:00","x2":"2021-04-05T12:00","23":0,"22":0,"21":0,"20":0,"19":0,"18":0,"17":0,"16":0,"15":0,"14":0,"13":0,"12":0,"11":0,"10":0,"9":0,"8":0,"7":0,"6":0,"5":0,"4":0,"3":0,"2":0,"1":0,"0":0},
{"p":"d","x":"2021-04-05T12:00","x2":"2021-04-12T12:00","23":0,"22":0,"21":0,"20":0,"19":0,"18":0,"17":0,"16":0,"15":0,"14":0,"13":0,"12":0,"11":0,"10":0,"9":0,"8":0,"7":0,"6":0,"5":0,"4":0,"3":0,"2":0,"1":0,"0":0},
{"p":"d","x":"2021-04-12T12:00","x2":"2021-04-19T12:00","23":0,"22":0,"21":0,"20":0,"19":0,"18":0,"17":0,"16":0,"15":0,"14":0,"13":0,"12":0,"11":0,"10":0,"9":0,"8":0,"7":0,"6":0,"5":0,"4":0,"3":0,"2":0,"1":0,"0":0},
{"p":"d","x":"2021-04-19T12:00","x2":"2021-04-26T12:00","23":0,"22":0,"21":0,"20":0,"19":0,"18":0,"17":0,"16":0,"15":0,"14":0,"13":0,"12":0,"11":0,"10":0,"9":0,"8":0,"7":0,"6":0,"5":0,"4":0,"3":0,"2":0,"1":0,"0":0},
{"p":"d","x":"2021-04-26T12:00","x2":"2021-05-03T12:00","23":0,"22":0,"21":0,"20":0,"19":0,"18":0,"17":0,"16":0,"15":0,"14":0,"13":0,"12":0,"11":0,"10":0,"9":0,"8":0,"7":0,"6":0,"5":0,"4":0,"3":0,"2":0,"1":0,"0":0},
{"p":"d","x":"2021-05-03T12:00","x2":"2021-05-10T12:00","23":0,"22":0,"21":0,"20":0,"19":0,"18":0,"17":0,"16":0,"15":0,"14":0,"13":0,"12":0,"11":0,"10":0,"9":0,"8":0,"7":0,"6":0,"5":0,"4":0,"3":0,"2":0,"1":0,"0":0},
{"p":"d","x":"2021-05-10T12:00","x2":"2021-05-17T12:00","23":0,"22":0,"21":0,"20":0,"19":0,"18":0,"17":0,"16":0,"15":0,"14":0,"13":0,"12":0,"11":0,"10":0,"9":0,"8":0,"7":0,"6":0,"5":0,"4":0,"3":0,"2":0,"1":0,"0":0},
{"p":"d","x":"2021-05-17T12:00","x2":"2021-05-24T12:00","23":0,"22":0,"21":0,"20":0,"19":0,"18":0,"17":0,"16":0,"15":0,"14":0,"13":0,"12":0,"11":0,"10":0,"9":0,"8":0,"7":0,"6":0,"5":0,"4":0,"3":0,"2":0,"1":0,"0":0},
{"p":"d","x":"2021-05-24T12:00","x2":"2021-05-31T12:00","23":0,"22":0,"21":0,"20":0,"19":0,"18":0,"17":0,"16":0,"15":0,"14":0,"13":0,"12":0,"11":0,"10":0,"9":0,"8":0,"7":0,"6":0,"5":0,"4":0,"3":0,"2":0,"1":0,"0":0},
{"p":"d","x":"2021-05-31T12:00","x2":"2021-06-07T12:00","23":0,"22":0,"21":0,"20":0,"19":0,"18":0,"17":0,"16":0,"15":0,"14":0,"13":0,"12":0,"11":0,"10":0,"9":0,"8":0,"7":0,"6":0,"5":0,"4":0,"3":0,"2":0,"1":0,"0":0},
{"p":"d","x":"2021-06-07T12:00","x2":"2021-06-14T12:00","23":0,"22":0,"21":0,"20":0,"19":0,"18":0,"17":0,"16":0,"15":0,"14":0,"13":0,"12":0,"11":0,"10":0,"9":0,"8":0,"7":0,"6":0,"5":0,"4":0,"3":0,"2":0,"1":0,"0":0},
{"p":"d","x":"2021-06-14T12:00","x2":"2021-06-21T12:00","23":0,"22":0,"21":0,"20":0,"19":0,"18":0,"17":0,"16":0,"15":0,"14":0,"13":0,"12":0,"11":0,"10":0,"9":0,"8":0,"7":0,"6":0,"5":0,"4":0,"3":0,"2":0,"1":0,"0":0},
{"p":"d","x":"2021-06-21T12:00","x2":"2021-06-28T12:00","23":0,"22":0,"21":0,"20":0,"19":0,"18":0,"17":0,"16":0,"15":0,"14":0,"13":0,"12":0,"11":0,"10":0,"9":0,"8":0,"7":0,"6":0,"5":0,"4":0,"3":0,"2":0,"1":0,"0":0},
{"p":"d","x":"2021-06-28T12:00","x2":"2021-07-05T12:00","23":0,"22":0,"21":0,"20":0,"19":0,"18":0,"17":0,"16":0,"15":0,"14":0,"13":0,"12":0,"11":0,"10":0,"9":0,"8":0,"7":0,"6":0,"5":0,"4":0,"3":0,"2":0,"1":0,"0":0},
{"p":"d","x":"2021-07-05T12:00","x2":"2021-07-12T12:00","23":0,"22":0,"21":0,"20":0,"19":0,"18":0,"17":0,"16":0,"15":0,"14":0,"13":0,"12":0,"11":0,"10":0,"9":0,"8":0,"7":0,"6":0,"5":0,"4":0,"3":0,"2":0,"1":0,"0":0},
{"p":"d","x":"2021-07-12T12:00","x2":"2021-07-19T12:00","23":0,"22":0,"21":0,"20":0,"19":0,"18":0,"17":0,"16":0,"15":0,"14":0,"13":0,"12":0,"11":0,"10":0,"9":0,"8":0,"7":0,"6":0,"5":0,"4":0,"3":0,"2":0,"1":0,"0":0},
{"p":"d","x":"2021-07-19T12:00","x2":"2021-07-26T12:00","23":0,"22":0,"21":0,"20":0,"19":0,"18":0,"17":0,"16":0,"15":0,"14":0,"13":0,"12":0,"11":0,"10":0,"9":0,"8":0,"7":0,"6":0,"5":0,"4":0,"3":0,"2":0,"1":0,"0":0},
{"p":"d","x":"2021-07-26T12:00","x2":"2021-08-02T12:00","23":0,"22":0,"21":0,"20":0,"19":0,"18":0,"17":0,"16":0,"15":0,"14":0,"13":0,"12":0,"11":0,"10":0,"9":0,"8":0,"7":0,"6":0,"5":0,"4":0,"3":0,"2":0,"1":0,"0":0},
{"p":"d","x":"2021-08-02T12:00","x2":"2021-08-09T12:00","23":0,"22":0,"21":0,"20":0,"19":0,"18":0,"17":0,"16":0,"15":0,"14":0,"13":0,"12":0,"11":0,"10":0,"9":0,"8":0,"7":0,"6":0,"5":0,"4":0,"3":0,"2":0,"1":0,"0":0},
{"p":"d","x":"2021-08-09T12:00","x2":"2021-08-16T12:00","23":0,"22":0,"21":0,"20":0,"19":0,"18":0,"17":0,"16":0,"15":0,"14":0,"13":0,"12":0,"11":0,"10":0,"9":0,"8":0,"7":0,"6":0,"5":0,"4":0,"3":0,"2":0,"1":0,"0":0},
{"p":"d","x":"2021-08-16T12:00","x2":"2021-08-23T12:00","23":0,"22":0,"21":0,"20":0,"19":0,"18":0,"17":0,"16":0,"15":0,"14":0,"13":0,"12":0,"11":0,"10":0,"9":0,"8":0,"7":0,"6":0,"5":0,"4":0,"3":0,"2":0,"1":0,"0":0}
]
},
"vconcat":[
{"width":539,"height":145,"title":"(a)",
 "layer":[
  {"data":{"name":"cells"},"transform":[{"filter":"datum.p=='a'"},{"fold":["23","22","21","20","19","18","17","16","15","14","13","12","11","10","9","8","7","6","5","4","3","2","1","0"],"as":["h","v"]}],
   "mark":{"type":"rect","stroke":"#cccccc","strokeWidth":0.8},
   "encoding":{
    "x":{"field":"x","type":"temporal","scale":{"domain":[{"year":2020,"month":10,"date":10,"hours":12},{"year":2021,"month":8,"date":23,"hours":12}],"nice":false},"axis":{"values":[{"year":2020,"month":12,"date":1},{"year":2021,"month":2,"date":1},{"year":2021,"month":4,"date":1},{"year":2021,"month":6,"date":1},{"year":2021,"month":8,"date":1}],"labels":false,"title":null}},
    "x2":{"field":"x2"},
    "y":{"field":"h","type":"ordinal","sort":["23","22","21","20","19","18","17","16","15","14","13","12","11","10","9","8","7","6","5","4","3","2","1","0"],"scale":{"paddingInner":0,"paddingOuter":0},"axis":{"values":["23","19","15","11","7","3"],"labelExpr":"(length(datum.value)<2?'0':'')+datum.value+':00'","title":null}},
    "color":{"field":"v","type":"quantitative","title":["Hours with","detections/week"],"scale":{"domain":[0,1,2,3,4,5,6,7],"range":["#1d578c","#1c6c8e","#1c878c","#1fa086","#2ab677","#5bc84e","#abd92a","#fbe41a"]},"legend":{"values":[0,1,2,3,4,5,6,7]}}}},
  {"data":{"name":"sun"},"mark":{"type":"line","color":"#e4e4e4","strokeWidth":1.8},"encoding":{"x":{"field":"d","type":"temporal"},"y":{"field":"r","type":"quantitative","scale":{"domain":[-0.5,23.5],"nice":false,"zero":false},"axis":null}}},
  {"data":{"name":"sun"},"mark":{"type":"line","color":"#e4e4e4","strokeWidth":1.8},"encoding":{"x":{"field":"d","type":"temporal"},"y":{"field":"s","type":"quantitative","scale":{"domain":[-0.5,23.5],"nice":false,"zero":false},"axis":null}}}
 ],
 "resolve":{"scale":{"y":"independent"}}},
{"width":539,"height":145,"title":"(b)",
 "layer":[
  {"data":{"name":"cells"},"transform":[{"filter":"datum.p=='b'"},{"fold":["23","22","21","20","19","18","17","16","15","14","13","12","11","10","9","8","7","6","5","4","3","2","1","0"],"as":["h","v"]}],
   "mark":{"type":"rect","stroke":"#cccccc","strokeWidth":0.8},
   "encoding":{
    "x":{"field":"x","type":"temporal","scale":{"domain":[{"year":2020,"month":10,"date":10,"hours":12},{"year":2021,"month":8,"date":23,"hours":12}],"nice":false},"axis":{"values":[{"year":2020,"month":12,"date":1},{"year":2021,"month":2,"date":1},{"year":2021,"month":4,"date":1},{"year":2021,"month":6,"date":1},{"year":2021,"month":8,"date":1}],"labels":false,"title":null}},
    "x2":{"field":"x2"},
    "y":{"field":"h","type":"ordinal","sort":["23","22","21","20","19","18","17","16","15","14","13","12","11","10","9","8","7","6","5","4","3","2","1","0"],"scale":{"paddingInner":0,"paddingOuter":0},"axis":{"values":["23","19","15","11","7","3"],"labelExpr":"(length(datum.value)<2?'0':'')+datum.value+':00'","title":null}},
    "color":{"field":"v","type":"quantitative","title":["Hours with","detections/week"],"scale":{"domain":[0,1,2,3,4,5,6,7],"range":["#1d578c","#1c6c8e","#1c878c","#1fa086","#2ab677","#5bc84e","#abd92a","#fbe41a"]},"legend":{"values":[0,1,2,3,4,5,6,7]}}}},
  {"data":{"name":"sun"},"mark":{"type":"line","color":"#e4e4e4","strokeWidth":1.8},"encoding":{"x":{"field":"d","type":"temporal"},"y":{"field":"r","type":"quantitative","scale":{"domain":[-0.5,23.5],"nice":false,"zero":false},"axis":null}}},
  {"data":{"name":"sun"},"mark":{"type":"line","color":"#e4e4e4","strokeWidth":1.8},"encoding":{"x":{"field":"d","type":"temporal"},"y":{"field":"s","type":"quantitative","scale":{"domain":[-0.5,23.5],"nice":false,"zero":false},"axis":null}}}
 ],
 "resolve":{"scale":{"y":"independent"}}},
{"width":539,"height":145,"title":"(c)",
 "layer":[
  {"data":{"name":"cells"},"transform":[{"filter":"datum.p=='c'"},{"fold":["23","22","21","20","19","18","17","16","15","14","13","12","11","10","9","8","7","6","5","4","3","2","1","0"],"as":["h","v"]}],
   "mark":{"type":"rect","stroke":"#cccccc","strokeWidth":0.8},
   "encoding":{
    "x":{"field":"x","type":"temporal","scale":{"domain":[{"year":2020,"month":10,"date":10,"hours":12},{"year":2021,"month":8,"date":23,"hours":12}],"nice":false},"axis":{"values":[{"year":2020,"month":12,"date":1},{"year":2021,"month":2,"date":1},{"year":2021,"month":4,"date":1},{"year":2021,"month":6,"date":1},{"year":2021,"month":8,"date":1}],"labels":false,"title":null}},
    "x2":{"field":"x2"},
    "y":{"field":"h","type":"ordinal","sort":["23","22","21","20","19","18","17","16","15","14","13","12","11","10","9","8","7","6","5","4","3","2","1","0"],"scale":{"paddingInner":0,"paddingOuter":0},"axis":{"values":["23","19","15","11","7","3"],"labelExpr":"(length(datum.value)<2?'0':'')+datum.value+':00'","title":null}},
    "color":{"field":"v","type":"quantitative","title":["Hours with","detections/week"],"scale":{"domain":[0,1,2,3,4,5,6,7],"range":["#1d578c","#1c6c8e","#1c878c","#1fa086","#2ab677","#5bc84e","#abd92a","#fbe41a"]},"legend":{"values":[0,1,2,3,4,5,6,7]}}}},
  {"data":{"name":"sun"},"mark":{"type":"line","color":"#e4e4e4","strokeWidth":1.8},"encoding":{"x":{"field":"d","type":"temporal"},"y":{"field":"r","type":"quantitative","scale":{"domain":[-0.5,23.5],"nice":false,"zero":false},"axis":null}}},
  {"data":{"name":"sun"},"mark":{"type":"line","color":"#e4e4e4","strokeWidth":1.8},"encoding":{"x":{"field":"d","type":"temporal"},"y":{"field":"s","type":"quantitative","scale":{"domain":[-0.5,23.5],"nice":false,"zero":false},"axis":null}}}
 ],
 "resolve":{"scale":{"y":"independent"}}},
{"width":539,"height":145,"title":"(d)",
 "layer":[
  {"data":{"name":"cells"},"transform":[{"filter":"datum.p=='d'"},{"fold":["23","22","21","20","19","18","17","16","15","14","13","12","11","10","9","8","7","6","5","4","3","2","1","0"],"as":["h","v"]}],
   "mark":{"type":"rect","stroke":"#cccccc","strokeWidth":0.8},
   "encoding":{
    "x":{"field":"x","type":"temporal","scale":{"domain":[{"year":2020,"month":10,"date":10,"hours":12},{"year":2021,"month":8,"date":23,"hours":12}],"nice":false},"axis":{"values":[{"year":2020,"month":12,"date":1},{"year":2021,"month":2,"date":1},{"year":2021,"month":4,"date":1},{"year":2021,"month":6,"date":1},{"year":2021,"month":8,"date":1}],"format":"%b %Y","labelPadding":3,"title":null}},
    "x2":{"field":"x2"},
    "y":{"field":"h","type":"ordinal","sort":["23","22","21","20","19","18","17","16","15","14","13","12","11","10","9","8","7","6","5","4","3","2","1","0"],"scale":{"paddingInner":0,"paddingOuter":0},"axis":{"values":["23","19","15","11","7","3"],"labelExpr":"(length(datum.value)<2?'0':'')+datum.value+':00'","title":null}},
    "color":{"field":"v","type":"quantitative","title":["Hours with","detections/week"],"scale":{"domain":[0,1,2,3,4,5,6,7],"range":["#1d578c","#1c6c8e","#1c878c","#1fa086","#2ab677","#5bc84e","#abd92a","#fbe41a"]},"legend":{"values":[0,1,2,3,4,5,6,7]}}}},
  {"data":{"name":"sun"},"mark":{"type":"line","color":"#e4e4e4","strokeWidth":1.8},"encoding":{"x":{"field":"d","type":"temporal"},"y":{"field":"r","type":"quantitative","scale":{"domain":[-0.5,23.5],"nice":false,"zero":false},"axis":null}}},
  {"data":{"name":"sun"},"mark":{"type":"line","color":"#e4e4e4","strokeWidth":1.8},"encoding":{"x":{"field":"d","type":"temporal"},"y":{"field":"s","type":"quantitative","scale":{"domain":[-0.5,23.5],"nice":false,"zero":false},"axis":null}}}
 ],
 "resolve":{"scale":{"y":"independent"}}}
]
}
